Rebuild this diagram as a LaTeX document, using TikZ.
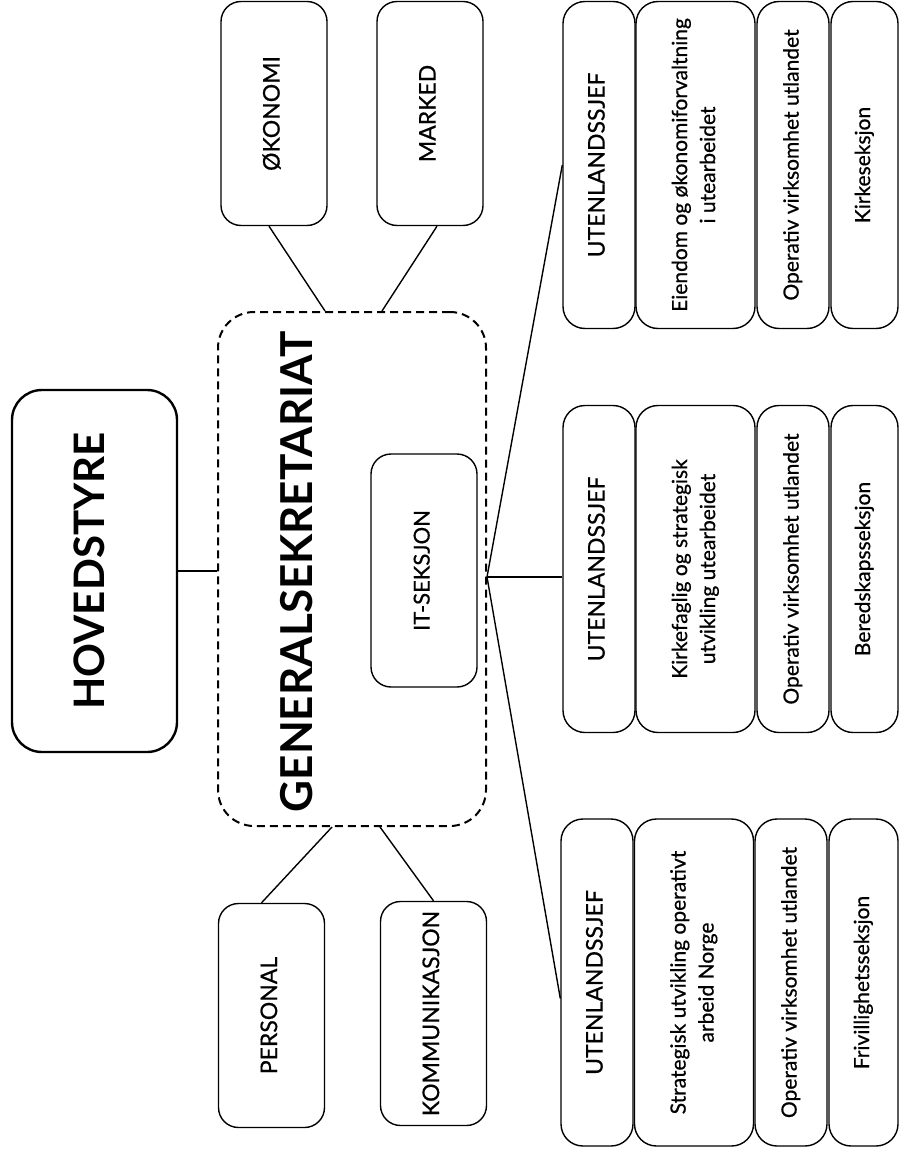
\documentclass[tikz,border=0pt]{standalone}
\usepackage{fontspec}
\setmainfont{Lato}
\newfontfamily\medfont{Lato}[FakeBold=0.6]
\usepackage{graphicx}
\usetikzlibrary{calc}

\newcommand{\vtext}[1]{\rotatebox{90}{\begin{tabular}{@{}c@{}}#1\end{tabular}}}

\begin{document}
\begin{tikzpicture}[x=1pt, y=-1pt, line width=1.4pt,
  main/.style = {draw, rounded corners=20pt, inner sep=0pt, minimum width=106pt, minimum height=224pt, font=\medfont\fontsize{23}{28}\selectfont},
  board/.style = {draw, rounded corners=30pt, line width=2.4pt, inner sep=0pt, minimum width=165pt, minimum height=362pt, font=\fontsize{42}{50}\selectfont\bfseries},
  dashbox/.style = {draw, rounded corners=36pt, line width=2pt, dash pattern=on 8pt off 5pt, minimum width=268pt, minimum height=514pt},
  cell/.style = {draw, rounded corners=22pt, inner sep=0pt, minimum height=327pt, font=\medfont\fontsize{21}{28}\selectfont},
  chief/.style = {cell, minimum width=72pt, font=\medfont\fontsize{23}{28}\selectfont}]
  \useasboundingbox (0,0) rectangle (900,1158);
  \node[board] (1) at (94.5,571) {\vtext{HOVEDSTYRE}};
  \node[dashbox] (2) at (352,569) {};
  \node[font=\fontsize{44}{50}\selectfont\bfseries, inner sep=0pt] (3) at (302,572) {\vtext{GENERALSEKRETARIAT}};
  \node[main, minimum height=233pt, font=\medfont\fontsize{22}{28}\selectfont] (4) at (424,570.5) {\vtext{IT-SEKSJON}};
  \node[main] (5) at (274,113.5) {\vtext{ØKONOMI}};
  \node[main] (6) at (430,113.5) {\vtext{MARKED}};
  \node[main] (7) at (271.5,1015.5) {\vtext{PERSONAL}};
  \node[main] (8) at (433.5,1013.5) {\vtext{KOMMUNIKASJON}};
  % top row
  \node[chief] (9) at (599,165) {\vtext{UTENLANDSSJEF}};
  \node[cell, minimum width=119pt] (10) at (695.5,165) {\vtext{Eiendom og økonomiforvaltning\\i utearbeidet}};
  \node[cell, minimum width=72pt] (11) at (793,165) {\vtext{Operativ virksomhet utlandet}};
  \node[cell, minimum width=67pt] (12) at (864.5,165) {\vtext{Kirkeseksjon}};
  % middle row
  \node[chief] (13) at (599,569) {\vtext{UTENLANDSSJEF}};
  \node[cell, minimum width=119pt] (14) at (695.5,569) {\vtext{Kirkefaglig og strategisk\\utvikling utearbeidet}};
  \node[cell, minimum width=72pt] (15) at (793,569) {\vtext{Operativ virksomhet utlandet}};
  \node[cell, minimum width=67pt] (16) at (864.5,569) {\vtext{Beredskapsseksjon}};
  % bottom row
  \node[chief] (17) at (597,982.5) {\vtext{UTENLANDSSJEF}};
  \node[cell, minimum width=119pt] (18) at (694,982.5) {\vtext{Strategisk utvikling operativt\\arbeid Norge}};
  \node[cell, minimum width=72pt] (19) at (791,982.5) {\vtext{Operativ virksomhet utlandet}};
  \node[cell, minimum width=69pt] (20) at (863.5,982.5) {\vtext{Frivillighetsseksjon}};
  \coordinate (c) at ($(2.east)+(0,8)$);
  \draw (1.east) to (1.east -| 2.west);
  \draw ($(5.south)+(-5,0)$) to ($(2.north)+(-27,0)$);
  \draw ($(6.south)+(7,0)$) to ($(2.north)+(30,0)$);
  \draw ($(7.north)+(-10,0)$) to ($(2.south)+(-20,0)$);
  \draw (8.north) to ($(2.south)+(28,0)$);
  \draw (c) to (9.west);
  \draw (c) to (c -| 13.west);
  \draw (c) to ($(17.west)+(0,16)$);
\end{tikzpicture}
\end{document}
